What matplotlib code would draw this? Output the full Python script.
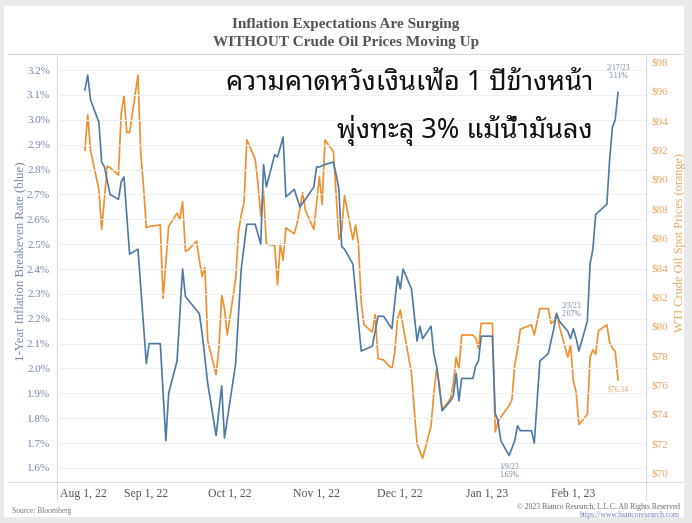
import matplotlib
matplotlib.use('Agg')
import matplotlib.pyplot as plt
import matplotlib.dates as mdates
import pandas as pd
from matplotlib.lines import Line2D
from matplotlib.patches import Rectangle

plt.rcParams.update({
    'font.family': ['Liberation Serif', 'DejaVu Serif'],
    'axes.unicode_minus': False,
})
THAI_FONTS = ['Noto Sans Thai Looped', 'Noto Sans Thai', 'Sarabun', 'Anuphan', 'DejaVu Sans']

# 1-year inflation breakeven (blue)
BE_DATES = [
    "2022-08-10", "2022-08-11", "2022-08-12", "2022-08-15", "2022-08-16", "2022-08-17",
    "2022-08-19", "2022-08-22", "2022-08-23", "2022-08-24", "2022-08-26", "2022-08-29",
    "2022-09-01", "2022-09-02", "2022-09-06", "2022-09-08", "2022-09-09", "2022-09-12",
    "2022-09-14", "2022-09-15", "2022-09-20", "2022-09-21", "2022-09-23", "2022-09-26",
    "2022-09-28", "2022-09-29", "2022-10-03", "2022-10-05", "2022-10-07", "2022-10-10",
    "2022-10-12", "2022-10-13", "2022-10-14", "2022-10-17", "2022-10-18", "2022-10-20",
    "2022-10-21", "2022-10-24", "2022-10-26", "2022-10-28", "2022-10-31", "2022-11-01",
    "2022-11-02", "2022-11-04", "2022-11-07", "2022-11-08", "2022-11-09", "2022-11-10",
    "2022-11-11", "2022-11-14", "2022-11-17", "2022-11-21", "2022-11-23", "2022-11-25",
    "2022-11-28", "2022-11-30", "2022-12-01", "2022-12-02", "2022-12-05", "2022-12-07",
    "2022-12-08", "2022-12-09", "2022-12-12", "2022-12-13", "2022-12-14", "2022-12-16",
    "2022-12-19", "2022-12-20", "2022-12-21", "2022-12-22", "2022-12-23", "2022-12-27",
    "2022-12-28", "2022-12-29", "2022-12-30", "2023-01-03", "2023-01-04", "2023-01-05",
    "2023-01-06", "2023-01-09", "2023-01-11", "2023-01-12", "2023-01-13", "2023-01-17",
    "2023-01-18", "2023-01-20", "2023-01-23", "2023-01-25", "2023-01-26", "2023-01-27",
    "2023-01-30", "2023-01-31", "2023-02-01", "2023-02-02", "2023-02-03", "2023-02-06",
    "2023-02-07", "2023-02-08", "2023-02-09", "2023-02-10", "2023-02-13", "2023-02-14",
    "2023-02-15", "2023-02-16", "2023-02-17",
]
BE_VALUES = [
    3.12, 3.18, 3.08, 2.99, 2.83, 2.81,
    2.70, 2.68, 2.75, 2.77, 2.46, 2.48,
    2.02, 2.10, 2.10, 1.71, 1.90, 2.03,
    2.40, 2.29, 2.22, 2.14, 1.94, 1.73,
    1.93, 1.72, 2.02, 2.40, 2.58, 2.58,
    2.50, 2.82, 2.73, 2.86, 2.85, 2.93,
    2.69, 2.72, 2.65, 2.68, 2.73, 2.81,
    2.81, 2.82, 2.83, 2.78, 2.72, 2.49,
    2.48, 2.42, 2.07, 2.09, 2.21, 2.21,
    2.16, 2.37, 2.32, 2.40, 2.32, 2.11,
    2.17, 2.12, 2.17, 2.06, 2.01, 1.83,
    1.87, 1.89, 1.98, 1.87, 1.96, 1.96,
    2.01, 2.03, 2.13, 2.13, 1.82, 1.79,
    1.71, 1.65, 1.71, 1.77, 1.75, 1.75,
    1.70, 2.03, 2.06, 2.16, 2.22, 2.19,
    2.15, 2.12, 2.16, 2.12, 2.07, 2.19,
    2.42, 2.48, 2.62, 2.63, 2.66, 2.84,
    2.97, 3.00, 3.11,
]

# WTI crude spot (orange)
WTI_DATES = [
    "2022-08-10", "2022-08-11", "2022-08-12", "2022-08-15", "2022-08-16", "2022-08-18",
    "2022-08-19", "2022-08-22", "2022-08-23", "2022-08-24", "2022-08-25", "2022-08-26",
    "2022-08-29", "2022-08-30", "2022-08-31", "2022-09-01", "2022-09-02", "2022-09-06",
    "2022-09-07", "2022-09-09", "2022-09-12", "2022-09-13", "2022-09-14", "2022-09-15",
    "2022-09-16", "2022-09-19", "2022-09-20", "2022-09-21", "2022-09-22", "2022-09-23",
    "2022-09-26", "2022-09-27", "2022-09-28", "2022-09-29", "2022-09-30", "2022-10-03",
    "2022-10-04", "2022-10-05", "2022-10-06", "2022-10-07", "2022-10-10", "2022-10-11",
    "2022-10-12", "2022-10-13", "2022-10-14", "2022-10-17", "2022-10-18", "2022-10-19",
    "2022-10-20", "2022-10-21", "2022-10-24", "2022-10-25", "2022-10-26", "2022-10-27",
    "2022-10-28", "2022-10-31", "2022-11-01", "2022-11-02", "2022-11-03", "2022-11-04",
    "2022-11-07", "2022-11-08", "2022-11-09", "2022-11-10", "2022-11-11", "2022-11-14",
    "2022-11-15", "2022-11-16", "2022-11-17", "2022-11-18", "2022-11-21", "2022-11-22",
    "2022-11-23", "2022-11-25", "2022-11-28", "2022-11-29", "2022-11-30", "2022-12-01",
    "2022-12-02", "2022-12-05", "2022-12-06", "2022-12-07", "2022-12-08", "2022-12-09",
    "2022-12-12", "2022-12-13", "2022-12-14", "2022-12-15", "2022-12-16", "2022-12-19",
    "2022-12-20", "2022-12-21", "2022-12-22", "2022-12-23", "2022-12-27", "2022-12-28",
    "2022-12-29", "2022-12-30", "2023-01-03", "2023-01-04", "2023-01-05", "2023-01-06",
    "2023-01-09", "2023-01-10", "2023-01-11", "2023-01-12", "2023-01-13", "2023-01-17",
    "2023-01-18", "2023-01-19", "2023-01-20", "2023-01-23", "2023-01-24", "2023-01-25",
    "2023-01-26", "2023-01-27", "2023-01-30", "2023-01-31", "2023-02-01", "2023-02-02",
    "2023-02-03", "2023-02-06", "2023-02-07", "2023-02-08", "2023-02-09", "2023-02-10",
    "2023-02-13", "2023-02-14", "2023-02-15", "2023-02-16", "2023-02-17",
]
WTI_VALUES = [
    92.0, 94.4, 92.0, 89.3, 86.6, 90.9,
    90.8, 90.3, 94.5, 95.7, 93.2, 93.2,
    97.1, 91.8, 89.5, 86.7, 86.8, 86.9,
    81.9, 86.8, 87.7, 87.3, 88.5, 85.1,
    85.2, 85.8, 84.5, 83.4, 84.0, 79.0,
    76.7, 78.5, 82.1, 81.2, 79.4, 83.2,
    86.4, 87.6, 88.4, 92.7, 91.4, 89.7,
    87.5, 89.2, 85.6, 85.5, 82.8, 85.6,
    84.5, 86.7, 86.3, 87.0, 88.0, 89.1,
    87.9, 86.6, 88.4, 90.2, 88.3, 92.7,
    91.9, 89.0, 85.9, 86.5, 88.9, 85.9,
    86.9, 85.6, 81.6, 80.1, 79.6, 80.8,
    77.8, 77.7, 77.1, 78.2, 80.5, 81.1,
    80.0, 76.8, 74.3, 72.0, 71.5, 71.0,
    73.2, 75.4, 77.1, 76.1, 74.3, 75.1,
    76.1, 77.9, 77.1, 79.4, 79.4, 79.2,
    78.5, 80.2, 80.2, 72.8, 73.5, 73.8,
    74.6, 75.0, 77.4, 78.4, 79.8, 80.1,
    79.4, 80.3, 81.2, 81.2, 80.2, 80.3,
    80.9, 80.0, 77.9, 78.7, 76.3, 75.5,
    73.3, 74.0, 77.9, 78.4, 78.1, 79.7,
    80.1, 78.9, 78.5, 78.3, 76.34,
]

BE_TICKS = [1.6, 1.7, 1.8, 1.9, 2.0, 2.1, 2.2, 2.3, 2.4, 2.5, 2.6, 2.7, 2.8, 2.9, 3.0, 3.1, 3.2]
WTI_TICKS = list(range(70, 100, 2))
MONTH_TICKS = ["2022-08-01", "2022-09-01", "2022-10-01", "2022-11-01",
               "2022-12-01", "2023-01-01", "2023-02-01"]

BLUE = '#4e79a7'
ORANGE = '#f28e2b'
BLUE_TXT = '#7588a8'
ORANGE_TXT = '#e6a660'
FRAME = '#d9d9d9'

be_dates = pd.to_datetime(BE_DATES)
wti_dates = pd.to_datetime(WTI_DATES)
month_ticks = pd.to_datetime(MONTH_TICKS)

fig = plt.figure(figsize=(6.92, 5.23), dpi=100, facecolor='#e9e9e9')
fig.patches.append(Rectangle((0.006, 0.012), 0.983, 0.976, transform=fig.transFigure,
                             facecolor='white', edgecolor='none', zorder=0))

ax = fig.add_axes([0.0824, 0.0784, 0.851, 0.8183])
ax2 = ax.twinx()
ax.set_zorder(2)
ax2.set_zorder(1)
ax.patch.set_visible(False)

ax.plot(be_dates, BE_VALUES, color=BLUE, lw=1.2, zorder=3)
ax2.plot(wti_dates, WTI_VALUES, color=ORANGE, lw=1.2, zorder=3)

ax.set_xlim(pd.Timestamp("2022-07-31"), pd.Timestamp("2023-02-27"))
ax.set_ylim(1.5437, 3.2643)
ax2.set_ylim(69.39, 98.545)

ax.set_yticks(BE_TICKS)
ax.set_yticklabels([f"{t:.1f}%" for t in BE_TICKS])
ax2.set_yticks(WTI_TICKS)
ax2.set_yticklabels([f"${t}" for t in WTI_TICKS])
ax.yaxis.grid(True, color='#f0f0f0', lw=0.8)
ax.set_axisbelow(True)

ax.set_xticks(month_ticks)
ax.xaxis.set_major_formatter(mdates.DateFormatter('%b %-d, %y'))
for i, lab in enumerate(ax.get_xticklabels()):
    if i == 0:
        lab.set_ha('left')

for a in (ax, ax2):
    for s in a.spines.values():
        s.set_visible(False)
    a.tick_params(length=0)
ax.tick_params(axis='x', labelsize=8.5, labelcolor='#555555', pad=4)
ax.tick_params(axis='y', labelsize=8, labelcolor=BLUE_TXT, pad=5)
ax2.tick_params(axis='y', labelsize=8, labelcolor=ORANGE_TXT, pad=4)

ax.set_ylabel("1-Year Inflation Breakeven Rate (blue)", color=BLUE_TXT, fontsize=9.2)
ax.yaxis.set_label_coords(-0.062, 0.515)
ax.yaxis.label.set_va('center')
ax2.set_ylabel("WTI Crude Oil Spot Prices (orange)", color=ORANGE_TXT, fontsize=8.8,
               rotation=90)
ax2.yaxis.set_label_coords(1.058, 0.56)
ax2.yaxis.label.set_va('center')

# frame lines in figure coordinates
for yy in (0.8967, 0.0784):
    fig.add_artist(Line2D([0.012, 0.985], [yy, yy], color=FRAME, lw=0.8))
for xx in (0.0824, 0.9335):
    fig.add_artist(Line2D([xx, xx], [0.044, 0.8967], color=FRAME, lw=0.8))

# point annotations
ax.annotate("2/17/23\n3.11%", (pd.Timestamp("2023-02-17"), 3.11), xytext=(0, 9),
            textcoords='offset points', ha='center', va='bottom', fontsize=5.5,
            color=BLUE_TXT, linespacing=1.0)
ax.annotate("2/3/23\n2.07%", (pd.Timestamp("2023-02-03"), 2.07), xytext=(-5, 24),
            textcoords='offset points', ha='center', va='bottom', fontsize=5.5,
            color=BLUE_TXT, linespacing=1.0)
ax.annotate("1/9/23\n1.65%", (pd.Timestamp("2023-01-09"), 1.65), xytext=(0, -5),
            textcoords='offset points', ha='center', va='top', fontsize=5.5,
            color=BLUE_TXT, linespacing=1.0)
ax2.annotate("$76.34", (pd.Timestamp("2023-02-17"), 76.34), xytext=(0, -4),
             textcoords='offset points', ha='center', va='top', fontsize=5.5,
             color=ORANGE_TXT)

# titles
fig.text(0.5, 0.953, "Inflation Expectations Are Surging", ha='center', va='center',
         fontsize=11, fontweight='bold', color='#555555')
fig.text(0.5, 0.919, "WITHOUT Crude Oil Prices Moving Up", ha='center', va='center',
         fontsize=11, fontweight='bold', color='#555555')

fig.text(0.857, 0.842, "ความคาดหวังเงินเฟ้อ 1 ปีข้างหน้า", ha='right', va='center',
         fontsize=19.5, fontweight='medium', color='#111111', family=THAI_FONTS)
fig.text(0.857, 0.751, "พุ่งทะลุ 3% แม้น้ำมันลง", ha='right', va='center',
         fontsize=19.5, fontweight='medium', color='#111111', family=THAI_FONTS)

fig.text(0.017, 0.023, "Source: Bloomberg", ha='left', va='center', fontsize=5.5, color='#777777')
fig.text(0.983, 0.031, "© 2023 Bianco Research, L.L.C. All Rights Reserved", ha='right',
         va='center', fontsize=5.5, color='#666666')
fig.text(0.983, 0.016, "https://www.biancoresearch.com", ha='right', va='center',
         fontsize=5.5, color='#6f84b8')

fig.savefig('out.png', dpi=100, facecolor=fig.get_facecolor())
